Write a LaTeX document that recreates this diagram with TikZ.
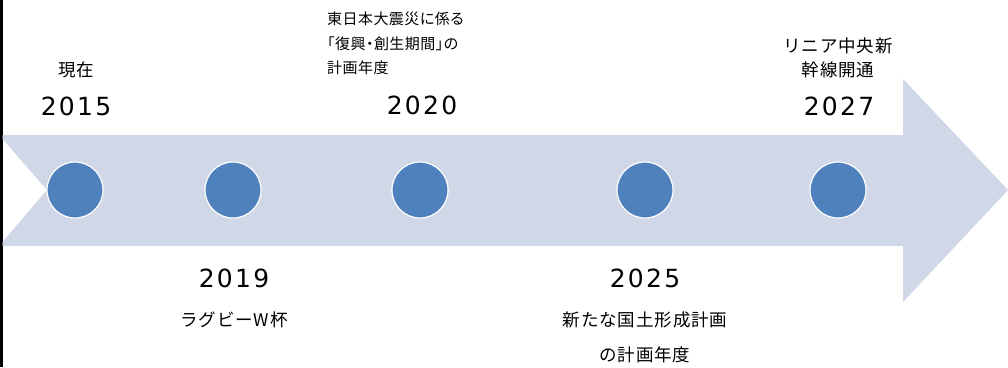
\documentclass[tikz,border=0pt]{standalone}
\usepackage{fontspec}
\setmainfont{Noto Sans CJK JP}
\newfontfamily\yearfont[LetterSpace=9]{DejaVu Sans}
\newfontfamily\jpfont[LetterSpace=5]{Noto Sans CJK JP}
\newfontfamily\jppfont[RawFeature=+palt,LetterSpace=3]{Noto Sans CJK JP}
\definecolor{arrowfill}{HTML}{D0D8E8}
\definecolor{dotfill}{HTML}{4F81BD}
\begin{document}
\begin{tikzpicture}[x=1pt,y=-1pt,
  dot/.style={circle,fill=dotfill,draw=white,line width=1.2pt,minimum size=56pt,inner sep=0pt},
  year/.style={inner sep=0pt,font=\fontsize{25}{28}\selectfont\yearfont},
  lbl/.style={inner sep=0pt,align=center,font=\fontsize{17.5}{24}\selectfont\jpfont},
  lblsmall/.style={inner sep=0pt,align=left,font=\fontsize{15}{24.3}\selectfont\jppfont}]
\useasboundingbox (0,0) rectangle (1008,367);
\fill[white] (0,0) rectangle (1008,367);
\fill[black] (0,0) rectangle (2.5,367);
\fill[arrowfill] (2.5,135) -- (903,135) -- (903,79) -- (1008,190) -- (903,302) -- (903,246)
  -- (2.5,246) -- (2.5,242) -- (47,190) -- (2.5,139) -- cycle;
\node[dot] (d1) at (75,190) {};
\node[dot] (d2) at (233,190) {};
\node[dot] (d3) at (420,190) {};
\node[dot] (d4) at (645,190) {};
\node[dot] (d5) at (838,190) {};
\node[lbl] (t1) at (76,70) {現在};
\node[year] (y1) at (76,106) {2015};
\node[lblsmall,anchor=north west] (t3) at (327,12) {東日本大震災に係る\\「復興・創生期間」の\\計画年度};
\node[year] (y3) at (422,105) {2020};
\node[lbl] (t5) at (838,58) {リニア中央新\\幹線開通};
\node[year] (y5) at (839,106) {2027};
\node[year] (y2) at (234,278) {2019};
\node[lbl] (t2) at (234,320) {ラグビーW杯};
\node[year] (y4) at (645,278) {2025};
\node[lbl,font=\fontsize{17.5}{35}\selectfont\jpfont] (t4) at (645,337) {新たな国土形成計画\\の計画年度};
\end{tikzpicture}
\end{document}
